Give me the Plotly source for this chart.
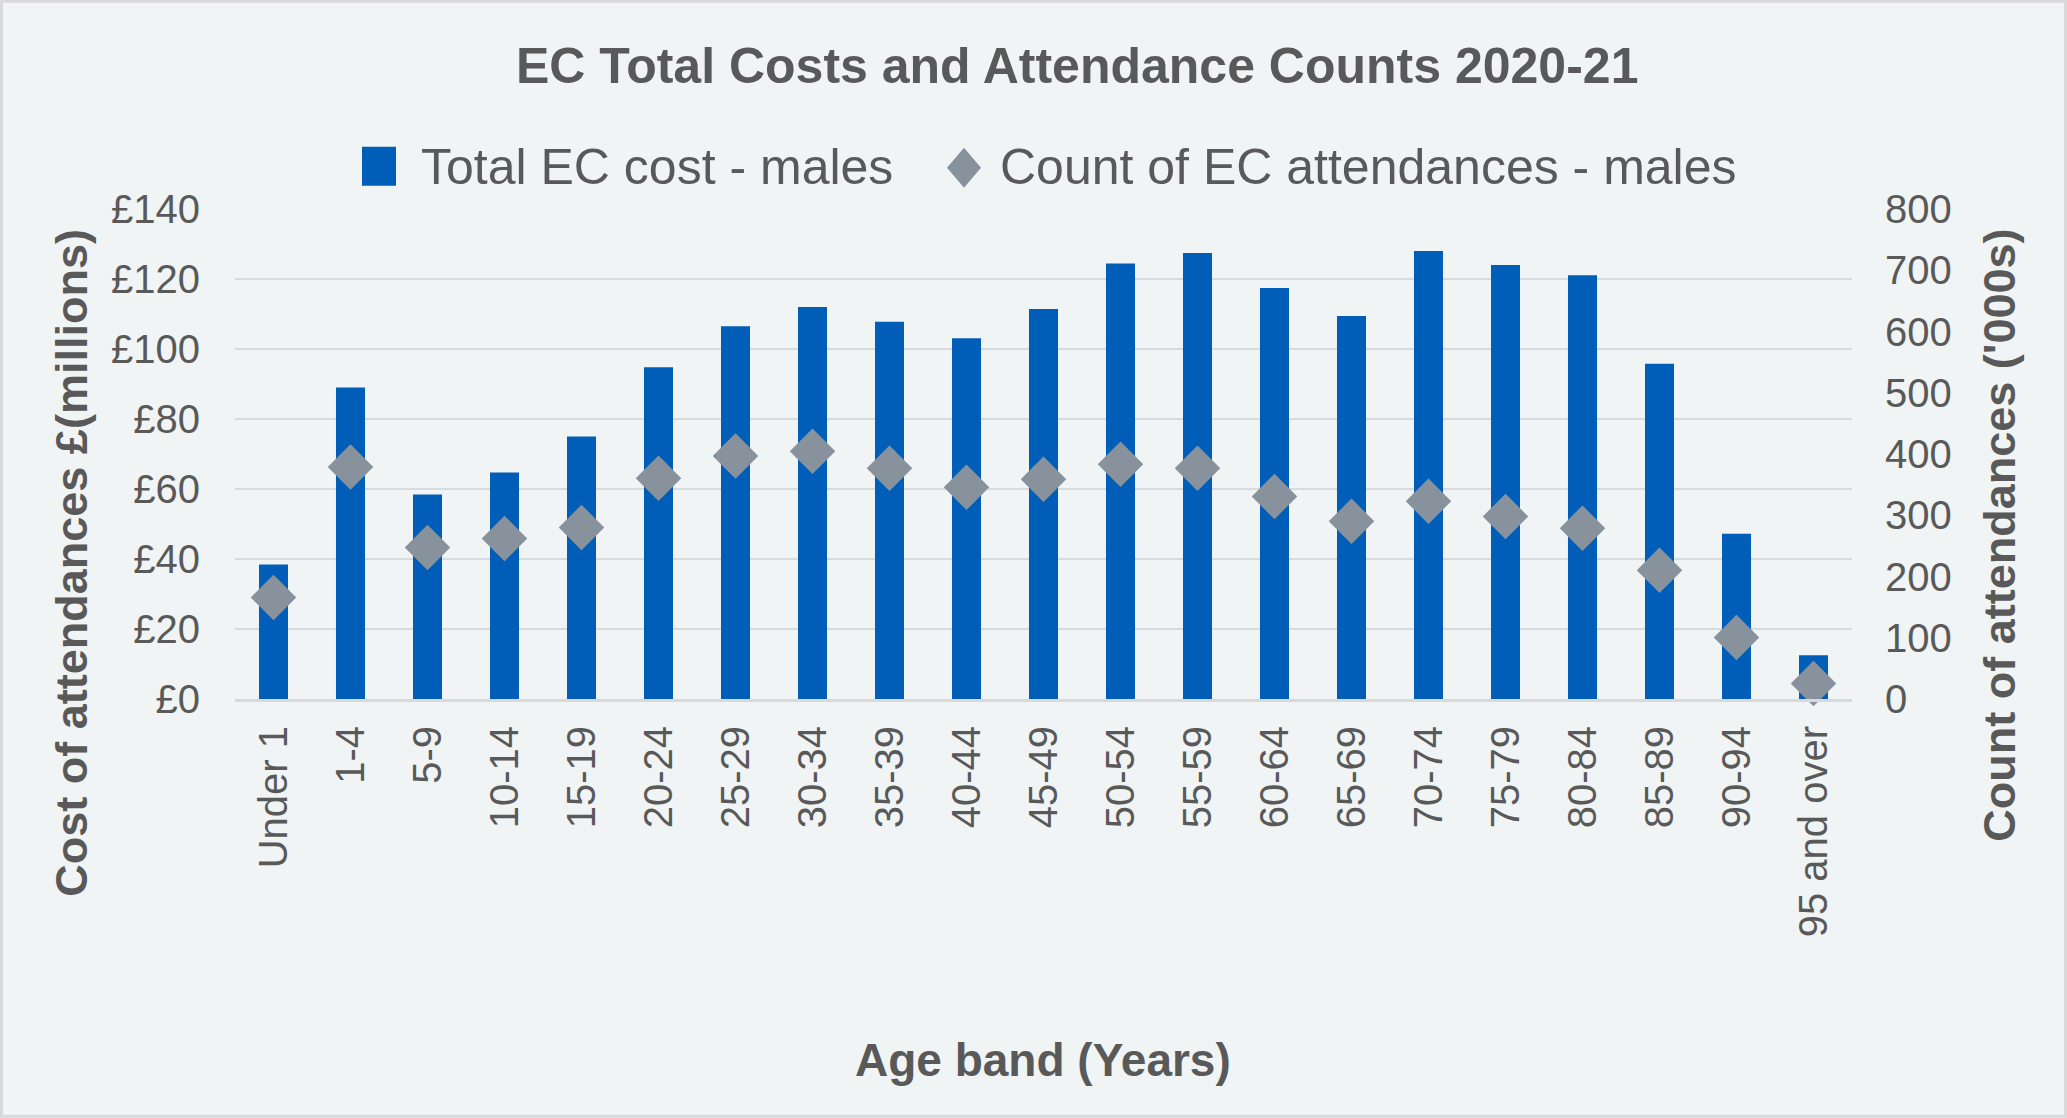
import plotly.graph_objects as go

# ---- data ----
age_bands = ["Under 1", "1-4", "5-9", "10-14", "15-19", "20-24", "25-29", "30-34",
             "35-39", "40-44", "45-49", "50-54", "55-59", "60-64", "65-69", "70-74",
             "75-79", "80-84", "85-89", "90-94", "95 and over"]
cost_males = [38.4, 89.0, 58.4, 64.7, 75.0, 94.8, 106.5, 112.0, 107.8, 103.1, 111.4,
              124.4, 127.4, 117.4, 109.4, 128.0, 124.0, 121.1, 95.8, 47.2, 12.5]
attend_males = [165.6, 378.6, 247.3, 262.0, 280.0, 360.6, 396.6, 404.5, 376.9, 345.9, 358.9,
                383.1, 376.9, 330.7, 290.1, 322.8, 298.0, 278.9, 210.1, 100.3, 25.4]
cost_ticks = [0, 20, 40, 60, 80, 100, 120, 140]
cost_tick_labels = ["£" + str(v) for v in cost_ticks]
count_ticks = [0, 100, 200, 300, 400, 500, 600, 700, 800]

# ---- layout geometry (pixels) ----
W, H = 2067, 1118
L, R, T, B = 235, 1852, 209.3, 699.3
def px(x):
    return (x - L) / (R - L)
def py(y):
    return (B - y) / (B - T)

TXT = "#595959"
BLUE = "#005EB8"
GREY = "#87929D"
BG = "#F0F4F5"
FONT = "Liberation Sans, Arial, sans-serif"

fig = go.Figure()
fig.add_trace(go.Bar(x=age_bands, y=cost_males, name="Total EC cost - males",
                     marker=dict(color=BLUE, line=dict(width=0)), yaxis="y"))
fig.add_trace(go.Scatter(x=age_bands, y=attend_males, name="Count of EC attendances - males",
                         mode="markers", yaxis="y2", cliponaxis=False,
                         marker=dict(symbol="diamond", size=35, color=GREY, line=dict(width=0))))

fig.update_layout(
    width=W, height=H,
    margin=dict(l=L, r=W - R, t=T, b=H - B, autoexpand=False),
    paper_bgcolor=BG, plot_bgcolor=BG,
    showlegend=False,
    bargap=0.623,
    font=dict(family=FONT, color=TXT),
    xaxis=dict(type="category", range=[-0.5, len(age_bands) - 0.5], autorange=False,
               tickangle=-90, tickfont=dict(size=40, color=TXT),
               showline=True, linecolor="#D9D9D9", linewidth=3, showgrid=False,
               ticks="", ticklabelstandoff=8, zeroline=False),
    yaxis=dict(range=[0, 140], tickvals=cost_ticks, ticktext=cost_tick_labels,
               tickfont=dict(size=40, color=TXT), showgrid=True, gridcolor="#D6DBDE",
               gridwidth=1.5, zeroline=False, showline=False, ticks="",
               ticklabelstandoff=34),
    yaxis2=dict(range=[0, 800], tickvals=count_ticks, overlaying="y", side="right",
                tickfont=dict(size=40, color=TXT), showgrid=False, zeroline=False,
                showline=False, ticks="", ticklabelstandoff=32),
)

# title
fig.add_annotation(text="EC Total Costs and Attendance Counts 2020-21", x=px(1077), y=py(66),
                   xref="paper", yref="paper", showarrow=False, xanchor="center", yanchor="middle",
                   font=dict(size=50, color=TXT, family=FONT, weight="bold"))
# axis titles
fig.add_annotation(text="Cost of attendances £(millions)", x=px(72), y=py(563), textangle=-90,
                   xref="paper", yref="paper", showarrow=False, xanchor="center", yanchor="middle",
                   font=dict(size=45, color=TXT, family=FONT, weight="bold"))
fig.add_annotation(text="Count of attendances ('000s)", x=px(2000), y=py(536), textangle=-90,
                   xref="paper", yref="paper", showarrow=False, xanchor="center", yanchor="middle",
                   font=dict(size=45, color=TXT, family=FONT, weight="bold"))
fig.add_annotation(text="Age band (Years)", x=px(1043), y=py(1060),
                   xref="paper", yref="paper", showarrow=False, xanchor="center", yanchor="middle",
                   font=dict(size=46, color=TXT, family=FONT, weight="bold"))

# custom legend
fig.add_shape(type="rect", xref="paper", yref="paper", x0=px(362), x1=px(396), y0=py(147), y1=py(186),
              fillcolor=BLUE, line=dict(width=0))
fig.add_annotation(text="Total EC cost - males", x=px(419), y=py(167), xref="paper", yref="paper",
                   showarrow=False, xanchor="left", yanchor="middle",
                   font=dict(size=50, color=TXT, family=FONT))
cx, cy, hw, hh = 964, 168, 17, 20
path = "M {},{} L {},{} L {},{} L {},{} Z".format(px(cx - hw), py(cy), px(cx), py(cy - hh),
                                                  px(cx + hw), py(cy), px(cx), py(cy + hh))
fig.add_shape(type="path", xref="paper", yref="paper", path=path, fillcolor=GREY, line=dict(width=0))
fig.add_annotation(text="Count of EC attendances - males", x=px(998), y=py(167), xref="paper", yref="paper",
                   showarrow=False, xanchor="left", yanchor="middle",
                   font=dict(size=50, color=TXT, family=FONT))

# outer border
fig.add_shape(type="rect", xref="paper", yref="paper", x0=px(1.5), x1=px(W - 1.5), y0=py(1.5), y1=py(H - 1.5),
              line=dict(color="#D9D9D9", width=3), fillcolor="rgba(0,0,0,0)")

fig.write_html("out.html")
